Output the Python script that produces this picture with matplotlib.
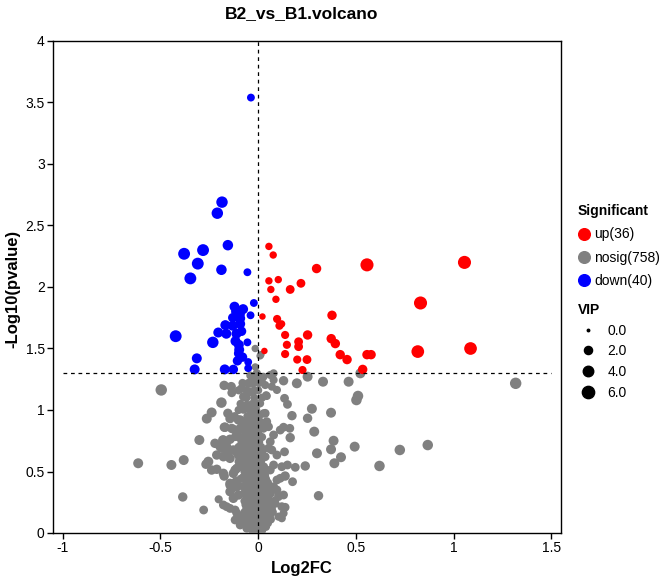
import matplotlib.pyplot as plt
from matplotlib.lines import Line2D
import numpy as np

plt.rcParams["font.family"] = ["Liberation Sans", "DejaVu Sans"]

TITLE = "B2_vs_B1.volcano"
P_CUT = 1.3  # -log10(0.05)
COUNTS = {"up": 36, "nosig": 758, "down": 40}
COLORS = {"up": "#ff0000", "nosig": "#808080", "down": "#0000ff"}
VIP_LEGEND = [0.0, 2.0, 4.0, 6.0]

# (log2fc, -log10 p, vip)
up_points = [
    (0.055, 2.33, 1.5), (0.077, 2.26, 1.5), (0.299, 2.15, 3.0), (0.557, 2.18, 7.0),
    (1.056, 2.20, 7.0), (0.055, 2.05, 1.5), (0.103, 2.06, 1.5), (0.065, 1.98, 1.5),
    (0.164, 1.98, 2.5), (0.219, 2.03, 2.5), (0.091, 1.90, 1.5), (0.831, 1.87, 7.0),
    (0.022, 1.76, 1.0), (0.097, 1.74, 2.0), (0.109, 1.685, 2.0), (0.378, 1.77, 3.0),
    (0.138, 1.61, 2.0), (0.253, 1.61, 3.0), (0.374, 1.58, 3.0), (0.395, 1.54, 3.0),
    (0.207, 1.555, 2.5), (0.207, 1.515, 2.5), (0.147, 1.53, 2.0), (0.032, 1.48, 1.0),
    (0.138, 1.455, 2.0), (0.200, 1.41, 2.0), (0.250, 1.41, 2.5), (0.420, 1.45, 3.0),
    (0.455, 1.41, 3.0), (0.557, 1.45, 3.0), (0.578, 1.45, 3.0), (0.817, 1.475, 6.5),
    (1.087, 1.50, 6.5), (0.227, 1.325, 2.0), (0.535, 1.33, 3.0), (0.120, 1.70, 1.5),
]

down_points = [
    (-0.037, 3.54, 1.8), (-0.185, 2.69, 5.0), (-0.209, 2.60, 5.0), (-0.155, 2.34, 4.0),
    (-0.379, 2.27, 5.5), (-0.282, 2.30, 5.5), (-0.309, 2.19, 5.5), (-0.188, 2.14, 4.0),
    (-0.055, 2.12, 1.8), (-0.347, 2.07, 5.5), (-0.022, 1.87, 1.8), (-0.121, 1.84, 3.5),
    (-0.077, 1.82, 3.5), (-0.096, 1.78, 4.5), (-0.113, 1.80, 3.5), (-0.092, 1.745, 3.5),
    (-0.039, 1.77, 1.8), (-0.168, 1.69, 3.5), (-0.130, 1.685, 3.5), (-0.092, 1.70, 3.5),
    (-0.204, 1.63, 3.5), (-0.163, 1.62, 3.5), (-0.111, 1.62, 3.5), (-0.422, 1.60, 5.5),
    (-0.232, 1.55, 5.0), (-0.116, 1.56, 3.5), (-0.055, 1.55, 1.8), (-0.099, 1.53, 3.5),
    (-0.097, 1.49, 3.5), (-0.314, 1.42, 3.5), (-0.080, 1.43, 3.0), (-0.106, 1.40, 3.0),
    (-0.051, 1.39, 1.8), (-0.325, 1.33, 3.5), (-0.171, 1.33, 3.5), (-0.127, 1.33, 3.0),
    (-0.051, 1.34, 1.8), (-0.100, 1.46, 3.0), (-0.130, 1.75, 3.0), (-0.085, 1.64, 3.0),
]

nosig_points = [
    (-0.496, 1.163, 5.0), (-0.614, 0.567, 3.5), (-0.444, 0.553, 3.5), (-0.381, 0.593, 3.5),
    (-0.301, 0.756, 3.5), (-0.386, 0.293, 3.0), (-0.279, 0.187, 2.5), (-0.263, 0.93, 3.5),
    (-0.238, 0.98, 3.5), (-0.188, 1.06, 4.0), (-0.174, 1.20, 3.0), (-0.138, 1.19, 3.0),
    (-0.135, 1.14, 2.5), (-0.155, 0.973, 3.0), (-0.255, 0.58, 3.5), (-0.267, 0.559, 3.0),
    (-0.212, 0.634, 3.0), (-0.212, 0.518, 3.0), (-0.174, 0.463, 3.0), (-0.202, 0.274, 2.0),
    (-0.178, 0.756, 3.0), (-0.173, 0.86, 3.0), (-0.135, 0.85, 3.0), (-0.118, 0.837, 3.0),
    (-0.169, 0.689, 3.0), (-0.155, 0.634, 3.0), (-0.109, 0.66, 3.0), (-0.092, 0.615, 3.0),
    (-0.135, 0.363, 3.0), (-0.144, 0.39, 3.0), (-0.113, 0.417, 3.0), (-0.118, 0.512, 3.0),
    (-0.075, 0.45, 3.0), (-0.161, 0.214, 2.5), (-0.118, 0.187, 2.5), (-0.084, 0.092, 2.5),
    (-0.075, 1.108, 2.5), (-0.084, 1.176, 2.5), (-0.041, 1.149, 2.5), (-0.058, 1.04, 2.5),
    (-0.075, 1.005, 2.5), (-0.032, 0.973, 2.0), (-0.050, 0.924, 2.5), (-0.101, 0.919, 3.0),
    (-0.058, 0.783, 2.5), (-0.041, 0.715, 2.5), (-0.015, 0.824, 2.0), (-0.024, 1.217, 2.0),
    (-0.050, 1.217, 2.5), (-0.019, 1.27, 2.0), (-0.195, 0.702, 3.0), (-0.221, 0.729, 3.0),
    (-0.238, 0.512, 3.0), (-0.058, 0.567, 2.5), (-0.075, 0.593, 2.5), (-0.050, 0.512, 2.5),
    (-0.144, 0.93, 3.0), (-0.092, 0.919, 3.0), (-0.169, 0.86, 3.0), (-0.101, 0.837, 3.0),
    (-0.075, 0.85, 3.0), (-0.181, 0.756, 3.0), (-0.144, 0.762, 3.0), (-0.101, 0.783, 3.0),
    (-0.186, 0.689, 3.0), (-0.161, 0.702, 3.0), (-0.127, 0.675, 3.0), (-0.178, 0.62, 3.0),
    (-0.144, 0.607, 3.0), (-0.101, 0.634, 3.0), (-0.075, 0.62, 3.0), (-0.178, 0.485, 3.0),
    (-0.127, 0.485, 3.0), (-0.109, 0.526, 3.0), (-0.041, 0.498, 2.5), (-0.144, 0.404, 3.0),
    (-0.109, 0.376, 3.0), (-0.144, 0.336, 3.0), (-0.101, 0.309, 3.0), (-0.127, 0.282, 3.0),
    (-0.178, 0.228, 2.5), (-0.144, 0.20, 2.5), (-0.109, 0.16, 2.5), (-0.084, 0.133, 2.5),
    (-0.118, 0.106, 2.5), (-0.092, 0.065, 2.5), (-0.058, 0.038, 2.5), (-0.015, 1.50, 1.5),
    (0.010, 1.44, 1.5), (-0.015, 1.35, 1.5), (-0.007, 1.30, 2.0), (-0.024, 1.27, 2.0),
    (0.130, 1.238, 3.0), (0.198, 1.217, 3.5), (0.253, 1.271, 3.5), (0.332, 1.23, 3.5),
    (0.463, 1.23, 3.5), (0.523, 1.298, 3.5), (0.511, 1.114, 4.0), (0.503, 1.081, 4.0),
    (0.044, 1.114, 2.0), (0.135, 1.095, 2.5), (0.150, 1.046, 2.5), (0.173, 0.954, 3.0),
    (0.275, 1.01, 3.5), (0.253, 0.933, 3.0), (0.373, 0.978, 3.5), (0.287, 0.824, 3.5),
    (0.162, 0.851, 2.5), (0.164, 0.775, 3.0), (0.386, 0.75, 3.5), (0.373, 0.68, 3.5),
    (0.494, 0.702, 3.5), (0.725, 0.675, 4.0), (0.301, 0.648, 3.5), (0.424, 0.616, 3.5),
    (0.390, 0.567, 3.5), (0.621, 0.545, 4.0), (0.135, 0.66, 2.5), (0.150, 0.553, 2.5),
    (0.190, 0.534, 2.5), (0.241, 0.545, 3.0), (0.138, 0.463, 3.0), (0.176, 0.417, 2.5),
    (0.309, 0.303, 3.0), (0.041, 1.12, 2.0), (0.070, 1.19, 2.0), (0.096, 1.163, 2.0),
    (0.036, 0.973, 2.5), (0.044, 0.905, 2.5), (0.027, 0.851, 2.5), (0.053, 0.864, 2.5),
    (0.079, 0.797, 2.5), (0.113, 0.837, 2.5), (0.130, 0.86, 2.5), (0.062, 0.742, 2.5),
    (0.053, 0.689, 2.5), (0.070, 0.675, 2.5), (0.096, 0.634, 2.5), (0.036, 0.62, 2.5),
    (0.121, 0.539, 2.5), (0.079, 0.553, 2.5), (0.062, 0.512, 2.5), (0.096, 0.431, 2.5),
    (0.113, 0.445, 2.5), (0.079, 0.376, 2.5), (0.096, 0.35, 2.5), (0.130, 0.309, 2.5),
    (0.104, 0.296, 2.5), (0.087, 0.241, 2.5), (0.121, 0.214, 2.5), (0.138, 0.209, 2.5),
    (0.130, 0.16, 2.0), (0.104, 0.133, 2.0), (0.121, 0.12, 2.0), (0.044, 0.09, 2.0),
    (0.027, 1.27, 2.0), (0.062, 1.285, 2.0), (0.079, 1.298, 2.0), (0.019, 1.23, 2.0),
    (0.036, 1.203, 2.0), (0.010, 1.054, 2.0), (0.027, 0.973, 2.0), (0.014, 1.45, 1.5),
    (0.079, 1.244, 2.0), (1.318, 1.217, 5.0), (0.868, 0.715, 4.0),
]

# dense cluster around log2fc = 0: (-log10 p, [log2fc, ...])
nosig_core = [
    (0.02, [-0.03, -0.01, 0.0, 0.01, 0.02]),
    (0.05, [-0.045, -0.02, -0.005, 0.01, 0.025, 0.04]),
    (0.08, [-0.05, -0.03, -0.015, 0.0, 0.015, 0.03, 0.05]),
    (0.11, [-0.06, -0.035, -0.02, -0.005, 0.01, 0.025, 0.045, 0.065]),
    (0.14, [-0.055, -0.04, -0.025, -0.01, 0.005, 0.02, 0.035, 0.06]),
    (0.17, [-0.07, -0.045, -0.03, -0.015, 0.0, 0.015, 0.03, 0.05, 0.075]),
    (0.20, [-0.06, -0.04, -0.02, -0.005, 0.01, 0.025, 0.045, 0.07]),
    (0.23, [-0.065, -0.045, -0.03, -0.01, 0.005, 0.02, 0.04, 0.06]),
    (0.26, [-0.07, -0.05, -0.03, -0.015, 0.0, 0.015, 0.035, 0.055, 0.08]),
    (0.29, [-0.06, -0.04, -0.02, -0.005, 0.01, 0.03, 0.05]),
    (0.32, [-0.075, -0.05, -0.03, -0.01, 0.005, 0.02, 0.045, 0.065]),
    (0.35, [-0.065, -0.04, -0.02, 0.0, 0.015, 0.04, 0.06]),
    (0.38, [-0.08, -0.055, -0.03, -0.01, 0.01, 0.03, 0.055]),
    (0.41, [-0.06, -0.035, -0.015, 0.005, 0.025, 0.05]),
    (0.44, [-0.09, -0.05, -0.025, -0.005, 0.02, 0.04]),
    (0.47, [-0.06, -0.03, -0.01, 0.01, 0.035]),
    (0.50, [-0.07, -0.04, -0.02, 0.0, 0.025]),
    (0.54, [-0.09, -0.06, -0.035, -0.015, 0.005, 0.03]),
    (0.58, [-0.10, -0.045, -0.025, -0.005, 0.015]),
    (0.62, [-0.055, -0.03, -0.01, 0.01]),
    (0.66, [-0.08, -0.045, -0.02, 0.0, 0.02]),
    (0.70, [-0.10, -0.065, -0.03, -0.01, 0.015]),
    (0.74, [-0.085, -0.05, -0.02, 0.005]),
    (0.78, [-0.12, -0.08, -0.035, -0.01, 0.02]),
    (0.82, [-0.06, -0.03, 0.0]),
    (0.86, [-0.09, -0.05, -0.02, 0.01]),
    (0.90, [-0.07, -0.035, -0.01, 0.015]),
    (0.95, [-0.12, -0.055, -0.02, 0.005]),
    (1.00, [-0.10, -0.04, -0.01]),
    (1.05, [-0.09, -0.03, 0.0]),
    (1.10, [-0.06, -0.02, 0.02]),
    (1.16, [-0.10, -0.06, -0.02, 0.0]),
    (1.22, [-0.08, -0.04, 0.005]),
    (1.28, [-0.04, -0.005]),
]
CORE_VIP = 2.0

DPI = 100


def vip_to_size(vip):
    d_px = 2.5 + 4.0 * np.sqrt(np.asarray(vip, dtype=float))
    return (d_px * 72 / DPI) ** 2


def vip_to_markersize(vip):
    return np.sqrt(vip_to_size(vip))


def scatter_group(ax, points, color):
    arr = np.array(points)
    ax.scatter(arr[:, 0], arr[:, 1], s=vip_to_size(arr[:, 2]), c=color,
               linewidths=0, zorder=3)


def main():
    fig = plt.figure(figsize=(6.62, 5.83), dpi=DPI)
    ax = fig.add_axes([53 / 662, 1 - 533 / 583, (561 - 53) / 662, (533 - 41) / 583])

    core = [(x, y, CORE_VIP) for y, xs in nosig_core for x in xs]
    scatter_group(ax, nosig_points + core, COLORS["nosig"])
    scatter_group(ax, up_points, COLORS["up"])
    scatter_group(ax, down_points, COLORS["down"])

    ax.axvline(0, color="black", linestyle=(0, (3, 3)), linewidth=0.9, zorder=4)
    ax.plot([-1, 1.5], [P_CUT, P_CUT], color="black", linestyle=(0, (3, 3)),
            linewidth=0.9, zorder=4)

    ax.set_xlim(-1.05, 1.55)
    ax.set_ylim(0, 4)
    ax.set_xticks([-1, -0.5, 0, 0.5, 1, 1.5])
    ax.set_xticklabels(["-1", "-0.5", "0", "0.5", "1", "1.5"])
    ax.set_yticks(np.arange(0, 4.01, 0.5))
    ax.set_yticklabels(["0", "0.5", "1", "1.5", "2", "2.5", "3", "3.5", "4"])
    ax.tick_params(direction="out", length=4, width=1, labelsize=10, pad=2)
    for sp in ax.spines.values():
        sp.set_linewidth(1)

    fig.text(302 / 662, 1 - 14 / 583, TITLE, ha="center", va="center",
             fontsize=12.5, fontweight="bold")
    fig.text(302 / 662, 1 - 569 / 583, "Log2FC", ha="center", va="center",
             fontsize=12, fontweight="bold")
    fig.text(13 / 662, 1 - 289 / 583, "-Log10(pvalue)", ha="center", va="center",
             rotation=90, fontsize=12, fontweight="bold")

    sig_handles = [
        Line2D([], [], marker="o", linestyle="", markersize=8.4,
               markerfacecolor=COLORS[k], markeredgecolor=COLORS[k])
        for k in ("up", "nosig", "down")
    ]
    sig_labels = [f"{k}({COUNTS[k]})" for k in ("up", "nosig", "down")]
    leg1 = fig.legend(sig_handles, sig_labels, title="Significant",
                      loc="upper left", bbox_to_anchor=(578 / 662, 1 - 204 / 583),
                      frameon=False, fontsize=10, title_fontsize=10,
                      alignment="left", handlelength=0.85, handletextpad=0.3,
                      labelspacing=0.68, borderaxespad=0, borderpad=0)
    leg1.get_title().set_fontweight("bold")

    vip_handles = [
        Line2D([], [], marker="o", linestyle="", markersize=vip_to_markersize(v),
               markerfacecolor="black", markeredgecolor="black")
        for v in VIP_LEGEND
    ]
    leg2 = fig.legend(vip_handles, [f"{v:.1f}" for v in VIP_LEGEND], title="VIP",
                      loc="upper left", bbox_to_anchor=(578 / 662, 1 - 303 / 583),
                      frameon=False, fontsize=10, title_fontsize=10,
                      alignment="left", handlelength=1.4, handletextpad=0.7,
                      labelspacing=0.48, borderaxespad=0, borderpad=0)
    leg2.get_title().set_fontweight("bold")

    fig.savefig("out.png", dpi=DPI)


if __name__ == "__main__":
    main()
